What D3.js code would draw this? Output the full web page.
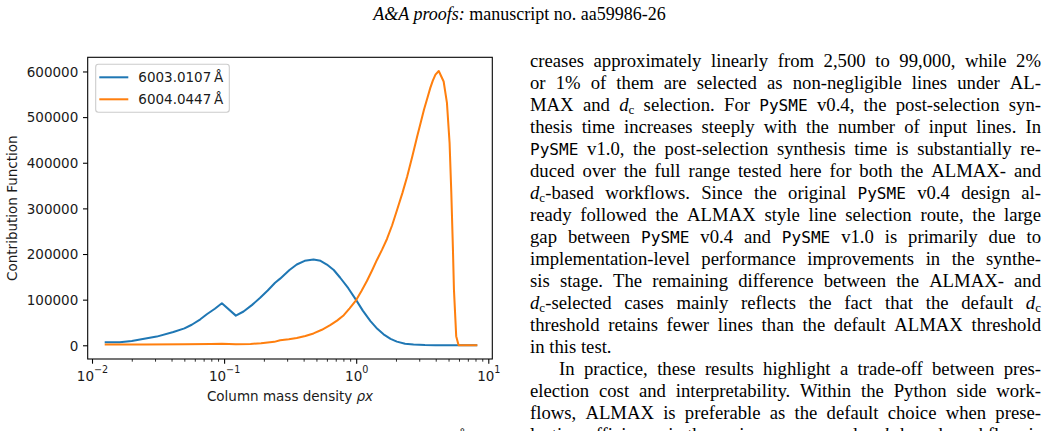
<!DOCTYPE html>
<html><head><meta charset="utf-8">
<script src="https://cdn.jsdelivr.net/npm/d3@7"></script>
<style>body{margin:0;background:#fff}svg{display:block}</style>
</head><body>
<svg id="c" width="1047" height="431"></svg>
<script>
// ---- chart data ----
const blueX = [0.0127,0.0162,0.0200,0.0231,0.0309,0.0413,0.0501,0.0569,0.0661,0.0740,0.0851,0.0962,
  0.1227,0.1403,0.1622,0.1875,0.2138,0.2432,0.2655,0.3126,0.3548,0.4074,0.4753,0.5370,0.5998,0.6761,
  0.7568,0.8710,1.0,1.122,1.282,1.445,1.611,1.820,2.032,2.344,2.716,3.311,3.981,5.012,6.310,8.110];
const blueY = [6600,6800,9500,12500,19000,29000,37000,45000,57000,68000,80000,92000,
  65000,74000,88000,104000,120000,137000,146000,165000,177000,185000,188000,185000,177000,165000,
  148000,125000,99000,76000,53000,36000,24000,14000,8000,3500,1500,500,200,100,50,0];
const orangeX = [0.0127,0.0251,0.0501,0.0794,0.0962,0.1227,0.1585,0.1905,0.2399,0.2655,0.3090,0.3548,
  0.4121,0.4753,0.5495,0.6353,0.7161,0.8054,0.8913,1.0,1.096,1.205,1.318,1.435,1.567,1.710,1.871,2.046,
  2.239,2.432,2.661,2.897,3.090,3.258,3.467,3.639,3.802,3.981,4.217,4.592,4.864,5.093,
  5.248,5.395,5.495,5.715,5.957,7.079,8.110];
const orangeY = [1500,1800,2200,2800,3500,2200,3000,4500,7500,11000,13000,16000,
  20500,26000,34000,44000,54000,66000,81000,99000,119000,141000,164000,187000,209000,233000,263000,298000,
  334000,370000,414000,458000,490000,516000,543000,564000,580000,593000,601000,578000,531000,443000,
  334000,214000,122000,20000,0,0,0];
const seriesNames = ["6003.0107\u2009Å", "6004.0447\u2009Å"];
const seriesColors = ["#1f77b4", "#ff7f0e"];
const yTicks = [0,100000,200000,300000,400000,500000,600000];
const xMajorTicks = [0.01,0.1,1,10];
const xTickExponents = ["\u22122","\u22121","0","1"];
const xMinorTicks = [0.02,0.03,0.04,0.05,0.06,0.07,0.08,0.09,0.2,0.3,0.4,0.5,0.6,0.7,0.8,0.9,2,3,4,5,6,7,8,9];
const xLabel = "Column mass density ";
const yLabel = "Contribution Function";

// ---- page text ----
const header = ["A&A proofs:", " manuscript no. aa59986-26"];
const bodyLines = [
 {t:"creases approximately linearly from 2,500 to 99,000, while 2%", j:true},
 {t:"or 1% of them are selected as non-negligible lines under AL-", j:true},
 {t:"MAX and d_c selection. For PySME v0.4, the post-selection syn-", j:true},
 {t:"thesis time increases steeply with the number of input lines. In", j:true},
 {t:"PySME v1.0, the post-selection synthesis time is substantially re-", j:true},
 {t:"duced over the full range tested here for both the ALMAX- and", j:true},
 {t:"d_c-based workflows. Since the original PySME v0.4 design al-", j:true},
 {t:"ready followed the ALMAX style line selection route, the large", j:true},
 {t:"gap between PySME v0.4 and PySME v1.0 is primarily due to", j:true},
 {t:"implementation-level performance improvements in the synthe-", j:true},
 {t:"sis stage. The remaining difference between the ALMAX- and", j:true},
 {t:"d_c-selected cases mainly reflects the fact that the default d_c", j:true},
 {t:"threshold retains fewer lines than the default ALMAX threshold", j:true},
 {t:"in this test.", j:false},
 {t:"In practice, these results highlight a trade-off between pres-", j:true, indent:29},
 {t:"election cost and interpretability. Within the Python side work-", j:true},
 {t:"flows, ALMAX is preferable as the default choice when prese-", j:true},
 {t:"lection efficiency is the main concern, and a d_c-based workflow is", j:true}
];

const svg = d3.select("#c");
svg.append("rect").attr("width",1047).attr("height",431).attr("fill","#fff");

const SANS = "'DejaVu Sans', sans-serif";
const SERIF = "'Liberation Serif','Times New Roman',serif";
const MONO = "'DejaVu Sans Mono', monospace";
const FS = 13.5;

const P = {left:87.7, right:492.3, top:57.3, bottom:359};
const x = d3.scaleLog().domain([Math.pow(10,-2.0326), Math.pow(10,1.0303)]).range([P.left, P.right]);
const y = d3.scaleLinear().domain([-30050, 631050]).range([P.bottom, P.top]);

// lines (clipped to plot area)
svg.append("clipPath").attr("id","clip").append("rect")
  .attr("x",P.left).attr("y",P.top).attr("width",P.right-P.left).attr("height",P.bottom-P.top);
const line = d3.line().x(d=>x(d[0])).y(d=>y(d[1]));
const series = [d3.zip(blueX, blueY), d3.zip(orangeX, orangeY)];
const gl = svg.append("g").attr("clip-path","url(#clip)");
series.forEach((s,i)=>{
  gl.append("path").datum(s).attr("d",line).attr("fill","none")
    .attr("stroke",seriesColors[i]).attr("stroke-width",2.03)
    .attr("stroke-linejoin","round").attr("stroke-linecap","square");
});

// axes
const yAxis = d3.axisLeft(y).tickValues(yTicks).tickSize(4.7).tickPadding(4.7).tickFormat(d3.format("d"));
const gy = svg.append("g").attr("transform",`translate(${P.left},0)`).call(yAxis);
gy.select(".domain").remove();
gy.selectAll("line").attr("stroke","#000").attr("stroke-width",1.08);
gy.selectAll("text").attr("font-family",SANS).attr("font-size",FS).attr("fill","#1a1a1a").attr("dy","0.36em");

const xAxis = d3.axisBottom(x).tickValues(xMajorTicks).tickSize(4.7).tickFormat("");
const gx = svg.append("g").attr("transform",`translate(0,${P.bottom})`).call(xAxis);
gx.select(".domain").remove();
gx.selectAll("line").attr("stroke","#000").attr("stroke-width",1.08);
gx.selectAll(".tick").each(function(d,i){
  const t = d3.select(this).append("text").attr("y",21.6).attr("text-anchor","middle")
    .attr("font-family",SANS).attr("font-size",FS).attr("fill","#1a1a1a");
  t.append("tspan").text("10");
  t.append("tspan").attr("dy",-7.3).attr("font-size",9.6).text(xTickExponents[i]);
});
const xMinor = d3.axisBottom(x).tickValues(xMinorTicks).tickSize(2.7).tickFormat("");
const gxm = svg.append("g").attr("transform",`translate(0,${P.bottom})`).call(xMinor);
gxm.select(".domain").remove();
gxm.selectAll("line").attr("stroke","#000").attr("stroke-width",0.81);

// spines
svg.append("rect").attr("x",P.left).attr("y",P.top).attr("width",P.right-P.left).attr("height",P.bottom-P.top)
  .attr("fill","none").attr("stroke","#000").attr("stroke-width",1.08);

// axis labels
const xl = svg.append("text").attr("x",(P.left+P.right)/2).attr("y",401).attr("text-anchor","middle")
  .attr("font-family",SANS).attr("font-size",FS).attr("fill","#1a1a1a");
xl.append("tspan").text(xLabel);
xl.append("tspan").attr("font-style","italic").text("ρx");
svg.append("text").attr("transform",`translate(17.3,${(P.top+P.bottom)/2}) rotate(-90)`)
  .attr("text-anchor","middle").attr("font-family",SANS).attr("font-size",FS).attr("fill","#1a1a1a").text(yLabel);

// legend
const lg = svg.append("g");
lg.append("rect").attr("x",95.7).attr("y",64.3).attr("width",133.6).attr("height",48).attr("rx",2.7)
  .attr("fill","#fff").attr("fill-opacity",0.8).attr("stroke","#cccccc").attr("stroke-width",1.08);
seriesNames.forEach((n,i)=>{
  const ly = 77.3 + i*22;
  lg.append("line").attr("x1",99.3).attr("x2",128.3).attr("y1",ly).attr("y2",ly)
    .attr("stroke",seriesColors[i]).attr("stroke-width",2.03);
  lg.append("text").attr("x",138.3).attr("y",ly+4.9).attr("font-family",SANS).attr("font-size",FS)
    .attr("fill","#1a1a1a").text(n);
});

// header
const hd = svg.append("text").attr("x",519.5).attr("y",20).attr("text-anchor","middle")
  .attr("font-family",SERIF).attr("font-size",18).attr("fill","#000");
hd.append("tspan").attr("font-style","italic").text(header[0]);
hd.append("tspan").text(header[1]);

// body text column (justified)
const colLeft = 530, colRight = 1041, base0 = 66.5, lead = 22.0, bfs = 18.7;
function addRich(t, w){
  const parts = w.split(/(PySME|d_c)/).filter(p=>p.length);
  let shift = 0;
  parts.forEach(p=>{
    if(p === "PySME"){
      t.append("tspan").attr("font-family",MONO).attr("font-size",bfs*0.86).attr("dy",-shift).text("PySME"); shift=0;
    } else if(p === "d_c"){
      t.append("tspan").attr("font-style","italic").attr("dy",-shift).text("d");
      t.append("tspan").attr("font-size",bfs*0.7).attr("dy",3.6).text("c"); shift=3.6;
    } else {
      t.append("tspan").attr("dy",-shift).text(p); shift=0;
    }
  });
}
const gb = svg.append("g");
bodyLines.forEach((ln,i)=>{
  const by = base0 + i*lead;
  const words = ln.t.split(" ");
  const els = words.map(w=>{
    const t = gb.append("text").attr("y",by).attr("font-family",SERIF).attr("font-size",bfs).attr("fill","#000");
    addRich(t,w); return t;
  });
  const widths = els.map(e=>e.node().getComputedTextLength());
  const start = colLeft + (ln.indent||0);
  const sum = d3.sum(widths);
  const gap = (ln.j && words.length>1) ? (colRight-start-sum)/(words.length-1) : bfs*0.25;
  let cx = start;
  els.forEach((e,k)=>{ e.attr("x",cx); cx += widths[k]+gap; });
});

// caption fragment at the bottom edge
svg.append("text").attr("x",456).attr("y",444).attr("font-family",SERIF).attr("font-size",18).attr("fill","#000").text("Å");
</script>
</body></html>
